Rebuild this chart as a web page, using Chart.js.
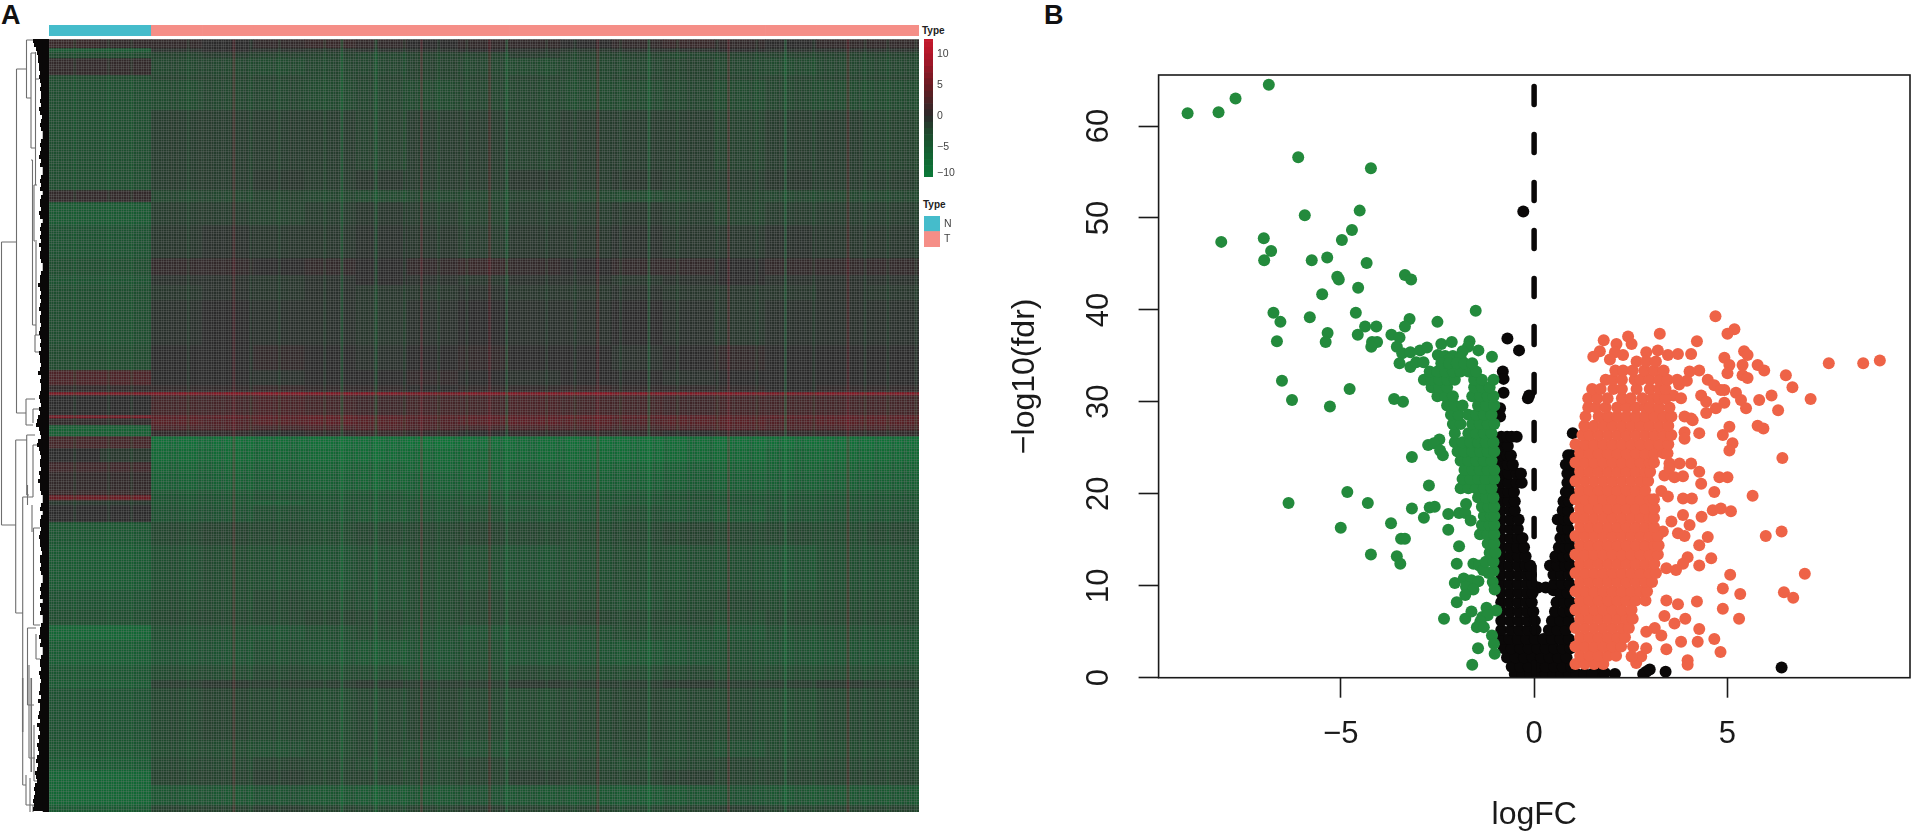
<!DOCTYPE html>
<html lang="en">
<head>
<meta charset="UTF-8">
<title>Heatmap and volcano plot</title>
<script src="https://cdn.jsdelivr.net/npm/chart.js"></script>
<style>
  html, body { margin: 0; padding: 0; background: #fff; width: 1916px; height: 836px; overflow: hidden; }
  canvas { position: absolute; display: block; }
  .lab { position: absolute; font-family: "Liberation Sans", sans-serif; font-weight: bold; color: #111; line-height: 1; }
</style>
</head>
<body>
<span class="lab" style="left:1px;top:2px;font-size:27px">A</span>
<span class="lab" style="left:1044px;top:2px;font-size:27px">B</span>
<span class="lab" style="left:922px;top:26px;font-size:10px;color:#222">Type</span>
<span class="lab" style="left:923px;top:200px;font-size:10px;color:#222">Type</span>
<canvas id="dendro" width="49" height="773" style="left:0;top:39px"></canvas>
<canvas id="annot" width="870" height="11" style="left:49px;top:25px"></canvas>
<canvas id="heat" width="870" height="773" style="left:49px;top:39px"></canvas>
<canvas id="scalebar" width="50" height="138" style="left:924px;top:39px"></canvas>
<canvas id="typekey" width="40" height="31" style="left:924px;top:216px"></canvas>
<canvas id="volcano" width="936" height="776" style="left:980px;top:60px"></canvas>
<script>
// ---------- panel A data ----------
const sampleCols = ['N1','N2','T1','T2','T3','T4','T5','T6','T7','T8','T9','T10','T11','T12','T13','T14','T15'];
const sampleTypes = ['N','N','T','T','T','T','T','T','T','T','T','T','T','T','T','T','T'];
const typeColors = { N: '#45bccb', T: '#f58e87' };

// gene rows in each horizontal band of the heatmap, top to bottom
const bandGenes = [9,4,6,17,5,30,60,20,12,23,33,17,10,15,45,25,15,7,3,20,3,7,5,6,12,14,10,18,5,5,5,17,23,45,20,15,15,25,15,8,52,17,13,15,20,7];
// one row per band, one value per sample column (log2 expression)
const heatRows = [
[1,0.5, 0.5,0,0.5,1,0.5,0,0.5,0.5,0,0.5,1,0.5,0,0.5,0.5],
[-5,-5, -0.5,0,-0.5,-1,-0.5,-0.5,0,-0.5,-1,-0.5,-0.5,0,-0.5,-0.5,-0.5],
[-3,-3, -2,-1.5,-2,-2,-2.5,-2,-2,-1.5,-2,-2,-2.5,-2,-2,-2,-2],
[0.5,0.5, -2.5,-2.5,-3,-2.5,-2.5,-2,-2.5,-3,-2.5,-2.5,-2,-2.5,-3,-2.5,-2.5],
[-3,-3, -2,-2,-2,-2.5,-2,-2,-2,-2,-2.5,-2,-2,-2,-2,-2,-2],
[-3.5,-3.5, -3,-2.5,-2.5,-3,-2.5,-3,-2.5,-2.5,-3,-3,-2.5,-3,-2.5,-3,-3],
[-3.5,-3.5, -1.5,-1.5,-1.5,-1.5,-2,-1.5,-1.5,-2,-1.5,-1.5,-1.5,-2,-1.5,-1.5,-2],
[-3.5,-3.5, -1.5,-1.5,-1,-1.5,-1,-1.5,-1.5,-1,-1.5,-1,-1.5,-1.5,-1,-1.5,-1.5],
[0.5,0.5, -2.5,-2.5,-2,-2.5,-3,-2.5,-2.5,-2,-2.5,-3,-2.5,-2,-2.5,-2.5,-2.5],
[-5,-5, -1.5,-1.5,-2,-1.5,-1,-1.5,-2,-1.5,-1.5,-1,-1.5,-2,-1.5,-1.5,-1.5],
[-4,-4, -1,-0.5,-1,-1,-0.5,-1,-1.5,-1,-1,-0.5,-1,-1,-0.5,-1,-1],
[-3.5,-3.5, 0.5,0.5,0,0.5,0,0.5,1,0.5,0,0.5,0.5,0,0.5,0.5,0.5],
[-4,-4, -0.5,-0.5,-1,-0.5,0,-0.5,-1,-0.5,-0.5,-1,-0.5,0,-0.5,-0.5,-0.5],
[-3.5,-3.5, -1,-0.5,-1,-0.5,-1,-1,-0.5,-1,-1,-0.5,-1,-1,-1,-0.5,-1],
[-3.5,-3.5, -0.5,0,-0.5,-0.5,-1,-0.5,0,-0.5,-0.5,0,-0.5,-1,-0.5,-0.5,-0.5],
[-3,-3, 0,0,0.5,0,-0.5,0,0.5,0,0,-0.5,0,0.5,0,0,0],
[2.5,2.5, 0,0,-0.5,0,0,0.5,0,-0.5,0,0,-0.5,0,0,0,0],
[0.5,0.5, 0.5,0.5,1,0.5,0.5,0,0.5,0.5,1,0.5,0.5,0.5,0,0.5,0.5],
[6.5,6.5, 7,7,7.5,7,7,6.5,7,7,7.5,7,7,7,6.5,7,7],
[0,0, 2,2,2.5,2,1.5,2,2,2.5,2,2,1.5,2,2,2,2],
[6,6, 4,4,4,4.5,4,3.5,4,4,4.5,4,4,3.5,4,4,4],
[0.5,0.5, 3.5,3,3.5,4,3.5,3,3.5,4,3.5,3,3.5,3.5,3,3.5,3.5],
[-6,-6, 2.5,2.5,2,2.5,3,2.5,2,2.5,2.5,2,2.5,3,2.5,2.5,2.5],
[-6,-6, 0.5,0.5,0,0.5,1,0.5,0,0.5,0.5,0.5,0,0.5,0.5,0.5,0.5],
[2,2, -8.5,-8.5,-8,-8.5,-8.5,-9,-8.5,-8,-8.5,-8.5,-8,-8.5,-8.5,-8.5,-8.5],
[0,-1, -7.5,-7.5,-7,-7.5,-8,-7.5,-7,-7.5,-7.5,-8,-7.5,-7.5,-7,-7.5,-7.5],
[1.5,1.5, -6.5,-6.5,-6,-6.5,-6.5,-7,-6.5,-6,-6.5,-6.5,-6,-6.5,-6.5,-6.5,-6.5],
[0.5,0.5, -6,-6,-5.5,-6,-6.5,-6,-6,-5.5,-6,-6,-5.5,-6,-6,-6,-6],
[1,1, -4.5,-4.5,-4,-4.5,-4.5,-5,-4.5,-4,-4.5,-4.5,-4,-4.5,-4.5,-4.5,-4.5],
[5,5, -4,-4,-3.5,-4,-4,-4.5,-4,-3.5,-4,-4,-3.5,-4,-4,-4,-4],
[-1,-1, -4.5,-4.5,-5,-4.5,-4.5,-4,-4.5,-5,-4.5,-4.5,-4.5,-4,-4.5,-4.5,-4.5],
[0,0, -4,-4,-3.5,-4,-4.5,-4,-3.5,-4,-4,-3.5,-4,-4.5,-4,-4,-4],
[-4.5,-4.5, -2.5,-2,-2.5,-3,-2.5,-2.5,-2,-2.5,-3,-2.5,-2,-2.5,-2.5,-3,-2.5],
[-5,-5, -3.5,-3,-3.5,-4,-3.5,-3,-3.5,-4,-3.5,-3,-3.5,-3.5,-4,-3.5,-3.5],
[-4,-4, -3,-3,-2.5,-3,-3.5,-3,-2.5,-3,-3,-3.5,-3,-2.5,-3,-3,-3],
[-3.5,-3.5, -2.5,-2.5,-2.5,-2,-2.5,-3,-2.5,-2.5,-2,-2.5,-2.5,-3,-2.5,-2.5,-2.5],
[-7,-7, -3.5,-3.5,-4,-3.5,-3,-3.5,-4,-3.5,-3.5,-3,-3.5,-4,-3.5,-3.5,-3.5],
[-5.5,-5.5, -4,-4,-3.5,-4,-4.5,-4,-3.5,-4,-4,-4.5,-4,-3.5,-4,-4,-4],
[-4.5,-4.5, -3,-3,-2.5,-3,-3,-3.5,-3,-2.5,-3,-3,-2.5,-3,-3,-3,-3],
[-5,-5, -1.5,-1,-1.5,-1.5,-1,-1.5,-1.5,-1,-1.5,-1.5,-1,-1.5,-1.5,-1,-1.5],
[-4,-4, -2.5,-2,-2.5,-3,-2.5,-2,-2.5,-3,-2.5,-2,-2.5,-2.5,-3,-2.5,-2.5],
[-4.5,-4.5, -3,-3,-3.5,-3,-2.5,-3,-3.5,-3,-3,-2.5,-3,-3.5,-3,-3,-3],
[-5,-5, -2.5,-2.5,-2,-2.5,-3,-2.5,-2,-2.5,-2.5,-3,-2.5,-2,-2.5,-2.5,-2.5],
[-7,-7, -2,-2,-1.5,-2,-2,-2.5,-2,-1.5,-2,-2,-1.5,-2,-2,-2,-2],
[-7,-7, -4.5,-4.5,-4,-4.5,-5,-4.5,-4,-4.5,-4.5,-5,-4.5,-4,-4.5,-4.5,-4.5],
[-5,-5, -2,-2,-1.5,-2,-2.5,-2,-1.5,-2,-2,-2.5,-2,-1.5,-2,-2,-2]
];
// narrow sample streaks that run down the heatmap: -2 bright green, -1 green, 0 none, 1 dark, 2 red
const sampleStreaks = [
0,0,0,0,-1,0,0,0,0,0,-1,0,0,0,-1,0,0,0,0,0,0,
1,1,0,-1,0,1,1,1,0,1,0,2,0,1,-1,1,0,0,1,-1,0,1,1,0,1,0,0,-1,0,1,-2,0,1,1,0,1,-2,0,1,
0,1,-1,0,1,2,0,1,-1,0,0,1,1,-1,0,1,0,2,0,1,-2,0,1,0,1,1,0,-1,0,1,1,0,-1,1,0,1,2,0,0,1,
-1,0,1,1,0,-2,1,0,1,0,-1,0,1,1,0,0,1,-1,0,2,1,0,0,1,-1,0,1,0,1,-2,0,1,1,0,-1,0,1,0,1,0,
2,0,1,-1,0,1,0,-1,1,0,1,0,-1];
const scaleStops = [[-10,[10,122,56]],[-5,[22,90,48]],[-2,[34,66,44]],[0,[42,42,42]],[5,[107,26,34]],[10,[179,22,42]],[13,[200,26,44]]];

// tree merges: merge height, gene rank, merge height, gene rank
const treeSegments = [
[47.5,203,47.5,486],[47.5,203,32.5,203],[47.5,486,33.3,486],[32.5,30,32.5,374],[32.5,30,22.5,30],[32.5,374,23,374],
[22.5,1,22.5,59],[22.5,1,14,1],[22.5,59,18,59],[18,14,18,109],[18,14,14,14],[18,109,13,109],[13.5,13,13.5,146],[13.5,40,10,40],
[16.5,121,16.5,286],[18,121,16.5,121],[16.5,286,13,286],[15,146,15,202],[15,146,12,146],[13,203,13,296],[15,202,12,202],
[14,296,14,313],[14,296,8,296],[14,313,8,313],[23,360,23,386],[23,360,14,360],[23,386,16,386],[16,370,16,384],[16,370,9,370],
[33.3,401,33.3,574],[33.3,401,22.3,401],[33.3,574,26.3,574],[22.3,396,22.3,456],[22.3,396,14,396],[22.3,456,20,456],
[26.3,458,26.3,746],[26.3,458,16,458],[26.3,746,23,746],[16,406,16,458],[16,406,10,406],[21.5,446,21.5,466],[17,466,17,493],
[15.5,489,15.5,586],[15.5,489,9,489],[15.5,586,9,586],[21.5,589,21.5,666],[21.5,589,13,589],[21.5,666,15,666],[13,595,13,620],[13,620,9,620],
[26.5,639,26.5,693],[26,639,26,693],[20,626,20,719],[20,719,14,719],[18,639,18,733],[17.5,639,17.5,733],[15,686,15,742],[15,742,10,742],
[23,736,23,766],[23,766,15,766],[19,739,19,783],[19,783,13,783],[16,766,16,780]
];
// depth of the black leaf fan every few gene ranks, top to bottom
const leafDepth = [
16,15,13,12,11,11,10,10,9,10,9,8,9,8,8,9,8,10,9,7,8,9,8,4,5,8,9,8,9,10,8,9,3,4,8,9,8,9,4,8,
9,9,8,10,9,5,8,9,8,9,8,10,8,9,9,8,4,5,8,9,9,11,9,8,9,8,9,10,8,9,9,8,9,10,9,8,9,8,10,9,
9,8,9,11,8,9,8,8,9,10,9,8,10,9,11,12,13,10,9,8,11,12,10,9,8,9,9,8,10,9,11,9,9,8,3,6,8,9,6,8,
9,9,8,9,10,9,9,8,7,9,9,8,9,8,4,3,8,9,8,9,5,9,8,9,3,4,8,9,9,10,8,9,4,3,8,9,9,8,10,9,
8,9,9,10,8,11,9,9,10,11,9,12,10,9,11,10,12,11,10,12,13,11,12,14,13,12,14,15,14,15,16,15,16
];
const leafCore = [[3, 0], [3, 773]];

// ---------- panel B data ----------
const xTicks = [-5, 0, 5];
const yTicks = [0, 10, 20, 30, 40, 50, 60];
const cutoffLine = [[0, 64.3], [0, 0]];

const downSparse = [
[-8.96,61.4],[-8.16,61.5],[-7.72,63],[-6.86,64.5],[-6.1,56.6],[-4.22,55.4],[-5.93,50.3],[-4.51,50.8],[-4.71,48.7],[-4.97,47.6],
[-8.09,47.4],[-6.99,47.8],[-6.8,46.4],[-6.98,45.4],[-5.75,45.4],[-5.35,45.7],[-4.33,45.1],[-3.34,43.8],[-3.18,43.3],[-5.09,43.6],
[-5.05,43.3],[-4.55,42.4],[-5.48,41.7],[-6.74,39.7],[-6.56,38.7],[-5.8,39.2],[-4.61,39.7],[-1.51,39.9],[-3.22,39],[-3.34,38.2],
[-2.5,38.7],[-4.37,38.2],[-4.08,38.2],[-5.34,37.5],[-5.39,36.5],[-4.56,37.3],[-6.65,36.6],[-3.69,37.3],[-3.48,37],[-4.19,36.5],
[-4.06,36.5],[-4.21,36],[-3.55,36],[-3.41,35.3],[-3.2,35.4],[-2.95,35.6],[-2.77,35.9],[-2.4,36.3],[-2.13,36.5],[-1.67,36.6],
[-1.71,36],[-1.85,35.5],[-1.44,35.6],[-1.09,34.9],[-2.49,35.1],[-3.48,34.2],[-3.2,33.8],[-3.05,34.3],[-2.86,34.3],[-6.52,32.3],
[-6.26,30.2],[-5.28,29.5],[-4.77,31.4],[-3.62,30.3],[-3.39,30],[-3.16,24],[-2.74,25.3],[-2.45,25.9],[-2.59,25.5],[-2.43,24.7],
[-2.36,24.2],[-2.72,20.9],[-4.83,20.2],[-6.35,19],[-4.3,19],[-3.16,18.4],[-2.7,18.5],[-2.57,18.6],[-2.85,17.4],[-3.7,16.8],
[-5,16.3],[-2.22,17.8],[-1.94,17.9],[-1.78,17.9],[-1.76,18.9],[-1.64,17.1],[-2.22,16.1],[-3.44,15.1],[-3.34,15.1],[-1.94,14.3],
[-4.22,13.4],[-3.55,13.2],[-3.46,12.4],[-2,12.4],[-1.57,12.4],[-1.42,12.2],[-2.05,10.3],[-1.82,10.8],[-1.62,10.6],[-1.44,10.5],
[-1.76,9.9],[-1.57,9.6],[-1.78,9],[-2,8.2],[-1.07,10.4],[-2.33,6.4],[-1.78,6.4],[-1.62,7.2],[-1.23,7.6],[-0.98,7.3],
[-1.34,6.6],[-1.2,6.8],[-1.39,6.1],[-1.48,5.5],[-1.3,5.5],[-1.09,4.6],[-1.45,3.2],[-1.04,3.7],[-1.02,2.6],[-1.6,1.4],
[-1.05,11.6],[-1.18,11.4],[-1.32,11.7],[-1.02,9.6],[-2.3,35],[-2.1,35],[-1.9,34.8],[-2.2,34.6]
];
const downDense = [
[12.6,[-1.25,-1.05]],[13.6,[-1.15,-1]],[14.6,[-1.2,-1.03]],[15.6,[-1.4,-1.2,-1.03]],[16.6,[-1.35,-1.15,-1.03]],[17.6,[-1.3,-1.12,-1.03]],
[18.6,[-1.35,-1.18,-1.03]],[19.6,[-1.45,-1.25,-1.05]],[20.6,[-1.9,-1.7,-1.5,-1.3,-1.1]],[21.6,[-1.85,-1.65,-1.45,-1.25,-1.03]],
[22.6,[-1.8,-1.6,-1.4,-1.2,-1.03]],[23.6,[-1.9,-1.7,-1.5,-1.3,-1.1]],[24.6,[-1.98,-1.8,-1.6,-1.4,-1.2,-1.03]],
[25.6,[-2.05,-1.85,-1.65,-1.45,-1.25,-1.05]],[26.6,[-2.05,-1.7,-1.5,-1.3,-1.1]],[27.6,[-2.1,-1.9,-1.6,-1.4,-1.2,-1.03]],
[28.6,[-2.15,-1.95,-1.7,-1.5,-1.3,-1.1]],[29.6,[-2.25,-2.05,-1.85,-1.45,-1.25,-1.03]],[30.6,[-2.5,-2.3,-2.1,-1.6,-1.4,-1.2,-1.05]],
[31.6,[-2.65,-2.45,-2.25,-1.55,-1.35,-1.15]],[32.4,[-2.85,-2.65,-2.45,-2.25,-2.05,-1.55,-1.35,-1.05]],
[33.3,[-2.7,-2.5,-2.3,-2.1,-1.9,-1.7,-1.5]],[34.2,[-2.4,-2.2,-2,-1.8,-1.6]]
];
const upSparse = [
[4.69,39.3],[5.18,37.9],[5,37.4],[3.25,37.4],[4.21,36.6],[1.8,36.7],[2.13,36.3],[2.43,37.1],[2.52,36.3],[1.7,35.5],[1.53,34.9],
[2.09,35.4],[1.96,34.6],[2.3,35.1],[2.9,35.4],[3.2,35.6],[3.46,35.1],[3.72,35.2],[4.06,35.2],[4.92,34.8],[5.43,35.5],[5.52,35.1],
[7.62,34.2],[8.51,34.2],[8.94,34.5],[5.78,34],[5.95,33.4],[5.05,34],[5.39,34],[5,33.1],[5.39,32.9],[5.52,32.6],[6.51,32.9],[6.68,31.6],
[7.15,30.3],[6.14,30.7],[5.82,30.2],[6.31,29.1],[5.22,31],[5.35,30.2],[5.48,29.3],[4.49,32.4],[4.66,31.8],[4.83,31.3],[4.92,31.3],
[4.27,33.4],[4.02,33.3],[4.32,30.7],[4.45,30],[4.92,29.9],[4.7,29.3],[4.45,28.8],[4.06,28.2],[3.89,28.4],[4.1,28],[5.78,27.4],[5.93,27.1],
[5.05,27.3],[4.88,26.4],[3.89,26.7],[4.27,26.6],[3.89,26],[5.13,25.5],[5.05,24.7],[6.42,23.9],[4.06,23.3],[4.27,22.4],[4.32,21.1],[3.5,23.3],
[3.76,23.3],[3.37,22],[3.5,22.8],[3.63,21.8],[3.85,21.9],[4.79,21.8],[5,21.8],[4.66,20.2],[5.65,19.8],[3.29,20.3],[3.46,19.7],[3.85,19.5],
[4.08,19.5],[4.62,18.2],[4.83,18.4],[5.09,18.1],[4.33,17.5],[3.85,17.7],[3.55,17],[4.02,16.6],[6.4,15.9],[5.99,15.4],[4.49,15.3],[4.27,14.4],
[3.72,15.7],[3.89,15.4],[3.33,15.9],[4.58,13],[3.97,13.1],[3.85,12.4],[4.27,12.2],[3.42,11.9],[3.67,11.7],[5.07,11.2],[7,11.3],[4.88,9.7],
[5.33,9.1],[6.46,9.3],[6.7,8.7],[3.42,8.4],[3.72,8],[4.21,8.3],[4.88,7.5],[5.3,6.4],[3.37,6.7],[3.63,5.9],[3.91,6.4],[4.27,5.3],[3.12,5.4],
[2.9,5],[3.29,4.6],[4.66,4.2],[4.82,2.8],[3.8,3.9],[4.23,3.9],[3.42,3.1],[3.97,1.9],[3.97,1.4],[2.64,1.6],[2.77,2.3],[2.9,3.2],[2.56,3.4],[2.52,2.3],
[3.75,31.9],[3.95,32.3],[3.6,30.7],[3.8,30.4]
];
const upDense = [
[1.5,[1.07,1.31,1.55,1.79]],
[2.4,[1.19,1.43,1.67,1.91,2.12]],
[3.4,[1.07,1.31,1.55,1.79,2.03,2.25]],
[4.4,[1.19,1.43,1.67,1.91,2.15,2.35]],
[5.4,[1.07,1.31,1.55,1.79,2.03,2.27,2.45]],
[6.4,[1.19,1.43,1.67,1.91,2.15,2.39,2.55]],
[7.4,[1.07,1.31,1.55,1.79,2.03,2.27,2.52]],
[8.4,[1.19,1.43,1.67,1.91,2.15,2.39,2.63,2.88]],
[9.4,[1.07,1.31,1.55,1.79,2.03,2.27,2.51,2.75,2.92]],
[10.4,[1.19,1.43,1.67,1.91,2.15,2.39,2.63,2.87,3.05]],
[11.4,[1.07,1.31,1.55,1.79,2.03,2.27,2.51,2.75,2.99,3.15]],
[12.4,[1.19,1.43,1.67,1.91,2.15,2.39,2.63,2.87,3.11]],
[13.4,[1.07,1.31,1.55,1.79,2.03,2.27,2.51,2.75,2.99,3.2]],
[14.4,[1.19,1.43,1.67,1.91,2.15,2.39,2.63,2.87,3.11,3.22]],
[15.4,[1.07,1.31,1.55,1.79,2.03,2.27,2.51,2.75,2.99,3.2]],
[16.4,[1.19,1.43,1.67,1.91,2.15,2.39,2.63,2.87,3.1]],
[17.4,[1.07,1.31,1.55,1.79,2.03,2.27,2.51,2.75,2.99,3.1]],
[18.4,[1.19,1.43,1.67,1.91,2.15,2.39,2.63,2.87,3.11]],
[19.4,[1.07,1.31,1.55,1.79,2.03,2.27,2.51,2.75,2.99,3.1]],
[20.4,[1.19,1.43,1.67,1.91,2.15,2.39,2.63,2.87]],
[21.4,[1.07,1.31,1.55,1.79,2.03,2.27,2.51,2.75,2.95]],
[22.4,[1.19,1.43,1.67,1.91,2.15,2.39,2.63,2.87,3]],
[23.4,[1.07,1.31,1.55,1.79,2.03,2.27,2.51,2.75,2.99,3.1]],
[24.4,[1.19,1.43,1.67,1.91,2.15,2.39,2.63,2.87,3.11,3.35,3.45]],
[25.4,[1.07,1.31,1.55,1.79,2.03,2.27,2.51,2.75,2.99,3.23,3.47]],
[26.4,[1.25,1.43,1.67,1.91,2.15,2.39,2.63,2.87,3.11,3.35,3.55]],
[27.4,[1.3,1.55,1.79,2.03,2.27,2.51,2.75,2.99,3.23,3.47]],
[28.4,[1.33,1.67,1.91,2.15,2.39,2.63,2.87,3.11,3.35,3.55]],
[29.4,[1.4,1.6,1.85,2.15,2.39,2.63,2.87,2.99,3.23,3.5]],
[30.4,[1.4,1.63,1.9,2.27,2.5,2.8,3.05,3.23,3.4]],
[31.4,[1.5,1.72,2.05,2.27,2.65,2.99,3.23,3.4]],
[32.4,[1.85,2.03,2.27,2.6,2.75,2.99,3.23,3.45,3.7]],
[33.4,[2.1,2.3,2.55,2.85,3.1,3.35]],
[34.4,[2.65,2.9,3.15]]
];
const flatSparse = [
[-0.28,50.7],[-0.69,36.9],[-0.39,35.6],[-0.16,30.4],[-0.13,30.7],[-0.81,33.3],[-0.79,32.5],[-0.79,31],[-0.88,29.3],[-0.88,28.4],[1,26.6],
[6.4,1.1],[3.4,0.65],[2.9,0.65],[2.82,0.4],[2.99,0.9],[2.09,0.4],[1.66,0.5],[1.83,0.5],[0.1,9.8],[0.3,9.8],[0.5,9.5]
];
const flatDense = [
[0.4,[-0.5,-0.3,-0.1,0.1,0.3,0.5,0.7,0.9,1.1,1.3,1.5]],
[1.2,[-0.58,-0.36,-0.14,0.08,0.3,0.52,0.74,0.96]],
[2.2,[-0.7,-0.48,-0.26,-0.04,0.18,0.4,0.62,0.84]],
[3.2,[-0.78,-0.58,-0.36,-0.14,0.08,0.3,0.52,0.74,0.94]],
[4.2,[-0.82,-0.64,-0.42,-0.2,0.02,0.24,0.46,0.68,0.9]],
[5.2,[-0.85,-0.6,-0.38,-0.16,0.04,0.38,0.6,0.82]],
[6.2,[-0.85,-0.62,-0.4,-0.18,0.02,0.46,0.68,0.9]],
[7.2,[-0.85,-0.62,-0.4,-0.18,-0.02,0.54,0.76,0.94]],
[8.2,[-0.85,-0.64,-0.42,-0.2,-0.06,0.58,0.78,0.94]],
[9.2,[-0.85,-0.62,-0.4,-0.18,-0.04,0.66,0.86]],
[10.2,[-0.85,-0.64,-0.42,-0.2,-0.05,0.52,0.72,0.92]],
[11.2,[-0.85,-0.62,-0.4,-0.2,-0.08,0.5,0.7,0.9]],
[12.2,[-0.85,-0.64,-0.42,-0.22,-0.1,0.41,0.6,0.8,0.94]],
[13.2,[-0.85,-0.62,-0.42,-0.22,0.55,0.75,0.92]],
[14.2,[-0.85,-0.64,-0.44,-0.26,0.64,0.8,0.94]],
[15.2,[-0.85,-0.62,-0.42,-0.3,0.68,0.84,0.94]],
[16.2,[-0.85,-0.62,-0.42,0.72,0.88]],
[17.2,[-0.85,-0.62,-0.4,0.61,0.78,0.9]],
[18.2,[-0.85,-0.62,-0.5,0.74,0.88]],
[19.2,[-0.85,-0.66,-0.5,0.76,0.9]],
[20.2,[-0.85,-0.66,-0.52,0.82,0.92]],
[21.2,[-0.85,-0.66,-0.45,-0.32,0.86,0.94]],
[22.2,[-0.85,-0.66,-0.45,-0.34,0.86,0.94]],
[23.2,[-0.85,-0.68,-0.55,0.82,0.94]],
[24.2,[-0.85,-0.7,-0.6,0.88,0.96]],
[25.2,[-0.85,-0.68]],
[26.2,[-0.85,-0.7,-0.58,-0.45]]
];

// ---------- helpers ----------
const FONT = '"Liberation Sans", Arimo, Helvetica, Arial, sans-serif';
Chart.defaults.font.family = FONT;
Chart.defaults.animation = false;
Chart.defaults.responsive = false;
Chart.defaults.devicePixelRatio = 1;
Chart.defaults.plugins.legend.display = false;
Chart.defaults.plugins.tooltip.enabled = false;

function scaleColor(v) {
  let i = 0;
  while (i < scaleStops.length - 2 && v > scaleStops[i + 1][0]) i++;
  const [a, ca] = scaleStops[i], [b, cb] = scaleStops[i + 1];
  const t = Math.max(0, Math.min(1, (v - a) / (b - a)));
  const c = ca.map((n, k) => Math.round(n + (cb[k] - n) * t));
  return `rgb(${c[0]},${c[1]},${c[2]})`;
}
function streakColor(s) {
  if (s === -2) return 'rgba(24,140,66,0.34)';
  if (s === -1) return 'rgba(24,120,56,0.16)';
  if (s === 1) return 'rgba(60,60,60,0.16)';
  if (s === 2) return 'rgba(160,30,50,0.25)';
  return 'rgba(0,0,0,0)';
}
const toPoints = (rows) => rows.flatMap(([y, xs]) => xs.map(x => ({ x, y })));
const pairs = (list) => list.map(([x, y]) => ({ x, y }));
const hidden = { display: false };
// rotated or tall tick labels must not push the plot area around
function noScalePadding(s) { s.paddingTop = 0; s.paddingBottom = 0; s.paddingLeft = 0; s.paddingRight = 0; }

// ---------- panel A ----------
new Chart(document.getElementById('dendro'), {
  type: 'scatter',
  data: { datasets: [
    {
      data: treeSegments.flatMap(([h1, r1, h2, r2]) => [{ x: h1, y: r1 }, { x: h2, y: r2 }, { x: null, y: null }]),
      showLine: true, borderColor: '#6e6e6e', borderWidth: 1.1, pointRadius: 0, order: 3
    },
    {
      data: leafDepth.flatMap((d, i) => [{ x: d, y: i * 4 + 2 }, { x: 0, y: i * 4 + 2 }, { x: null, y: null }]),
      showLine: true, borderColor: '#0a0808', borderWidth: 4, pointRadius: 0, order: 2
    },
    { data: pairs(leafCore), showLine: true, borderColor: '#0a0808', borderWidth: 6.5, pointRadius: 0, order: 1 }
  ] },
  options: { scales: {
    x: { display: false, min: 0, max: 49, reverse: true },
    y: { display: false, min: 0, max: 773, reverse: true }
  } }
});

new Chart(document.getElementById('annot'), {
  type: 'bar',
  data: { labels: sampleCols, datasets: [{
    data: sampleCols.map(() => 1),
    backgroundColor: sampleTypes.map(t => typeColors[t]),
    barPercentage: 1, categoryPercentage: 1
  }] },
  options: { scales: { x: hidden, y: { display: false, min: 0, max: 1 } } }
});

const heatDatasets = heatRows.map((row, i) => ({
  data: sampleCols.map(() => bandGenes[i]),
  backgroundColor: row.map(scaleColor),
  xAxisID: 'x', yAxisID: 'y',
  barPercentage: 1, categoryPercentage: 1, grouped: false, stack: 'genes', order: 2
}));
heatDatasets.push({
  data: sampleStreaks.map(() => 1),
  backgroundColor: sampleStreaks.map(streakColor),
  xAxisID: 'xs', yAxisID: 'ys', barPercentage: 0.5, categoryPercentage: 1, grouped: false, stack: 'streak', order: 1
});
new Chart(document.getElementById('heat'), {
  type: 'bar',
  data: { datasets: heatDatasets },
  options: { scales: {
    x: { type: 'category', labels: sampleCols, display: false, stacked: true, offset: true },
    xs: { type: 'category', labels: sampleStreaks.map((s, i) => 's' + i), display: false, offset: true },
    ys: { display: false, min: 0, max: 1 },
    y: {
      min: 0, max: 773, reverse: true, stacked: true,
      grid: { z: 1, color: 'rgba(125,125,125,0.27)', drawTicks: false, tickLength: 0 },
      border: { display: false },
      ticks: { display: false, stepSize: 2.5, autoSkip: false, maxTicksLimit: 400 },
      afterFit(s) { s.width = 0; }
    },
    mesh: {
      type: 'linear', position: 'top', min: 0, max: 348,
      grid: { z: 1, color: 'rgba(125,125,125,0.27)', drawTicks: false, tickLength: 0 },
      border: { display: false },
      ticks: { display: false, stepSize: 1, autoSkip: false, maxTicksLimit: 400 },
      afterFit(s) { s.height = 0; }
    }
  } }
});

// colour key
const keyBins = [-10,-9,-8,-7,-6,-5,-4,-3,-2,-1,0,1,2,3,4,5,6,7,8,9,10,11,12];
const keyTicks = [-9.2, -5, 0, 5, 10];
new Chart(document.getElementById('scalebar'), {
  type: 'bar',
  data: { labels: ['key'], datasets: keyBins.map(b => ({
    data: [[b, b + 1]], backgroundColor: scaleColor(b + 0.5), barPercentage: 1, categoryPercentage: 1, grouped: false
  })) },
  options: {
    scales: {
      x: hidden,
      y: {
        position: 'right', min: -9.84, max: 12.4,
        grid: { display: false, drawTicks: false }, border: { display: false },
        afterBuildTicks(s) { s.ticks = keyTicks.map(value => ({ value })); },
        ticks: {
          color: '#444', font: { size: 10.5 }, padding: 4,
          // the lowest label sits just inside the end of the key
          callback: v => (v < -9 ? '\u221210' : v < 0 ? '\u2212' + Math.abs(v) : String(v))
        },
        afterFit(s) { s.width = 41; noScalePadding(s); }
      }
    }
  }
});

const typeKeys = ['N', 'T'];
new Chart(document.getElementById('typekey'), {
  type: 'bar',
  data: { labels: typeKeys, datasets: [{
    data: [1, 1], backgroundColor: typeKeys.map(t => typeColors[t]), barPercentage: 1, categoryPercentage: 1
  }] },
  options: {
    indexAxis: 'y',
    scales: {
      x: { display: false, min: 0, max: 1 },
      y: {
        position: 'right', grid: { display: false, drawTicks: false }, border: { display: false },
        ticks: { color: '#444', font: { size: 10.5 }, padding: 4, autoSkip: false },
        afterFit(s) { s.width = 24; noScalePadding(s); }
      }
    }
  }
});

// ---------- panel B ----------
const boxPlugin = {
  id: 'box',
  afterDraw(chart) {
    const { ctx, chartArea: a } = chart;
    ctx.save();
    ctx.strokeStyle = '#1a1a1a';
    ctx.lineWidth = 1.6;
    ctx.strokeRect(a.left, a.top, a.right - a.left, a.bottom - a.top);
    ctx.restore();
  }
};
const dotStyle = (color, order) => ({
  backgroundColor: color, borderWidth: 0, pointRadius: 6, pointHoverRadius: 6, order
});
new Chart(document.getElementById('volcano'), {
  type: 'scatter',
  data: { datasets: [
    {
      data: pairs(cutoffLine), showLine: true, borderColor: '#0a0808', borderWidth: 5.5,
      borderDash: [18, 30], borderCapStyle: 'round', pointRadius: 0, order: 0
    },
    { data: pairs(upSparse).concat(toPoints(upDense)), ...dotStyle('#ee6347', 1) },
    { data: pairs(downSparse).concat(toPoints(downDense)), ...dotStyle('#238a3c', 2) },
    { data: pairs(flatSparse).concat(toPoints(flatDense)), ...dotStyle('#0a0808', 3) }
  ] },
  plugins: [boxPlugin],
  options: {
    layout: { padding: { top: 15, right: 3 } },
    scales: {
      x: {
        type: 'linear', min: -9.71, max: 9.72,
        grid: { drawOnChartArea: false, color: '#1a1a1a', tickLength: 20, tickWidth: 1.6 },
        border: { display: false },
        afterBuildTicks(s) { s.ticks = xTicks.map(value => ({ value })); },
        ticks: {
          color: '#1a1a1a', font: { size: 31 }, padding: 18, maxRotation: 0,
          callback: v => (v < 0 ? '\u2212' + Math.abs(v) : String(v))
        },
        title: { display: true, text: 'logFC', color: '#1a1a1a', font: { size: 32 }, padding: { bottom: 2 } },
        afterFit(s) { s.height = 158.3; noScalePadding(s); }
      },
      y: {
        min: 0, max: 65.55,
        grid: { drawOnChartArea: false, color: '#1a1a1a', tickLength: 20, tickWidth: 1.6 },
        border: { display: false },
        afterBuildTicks(s) { s.ticks = yTicks.map(value => ({ value })); },
        ticks: {
          color: '#1a1a1a', font: { size: 31 }, padding: 22, minRotation: 90, maxRotation: 90, crossAlign: 'center'
        },
        title: { display: true, text: '\u2212log10(fdr)', color: '#1a1a1a', font: { size: 32 }, padding: { top: 26 } },
        afterFit(s) { s.width = 178.6; noScalePadding(s); }
      }
    }
  }
});
</script>
</body>
</html>
